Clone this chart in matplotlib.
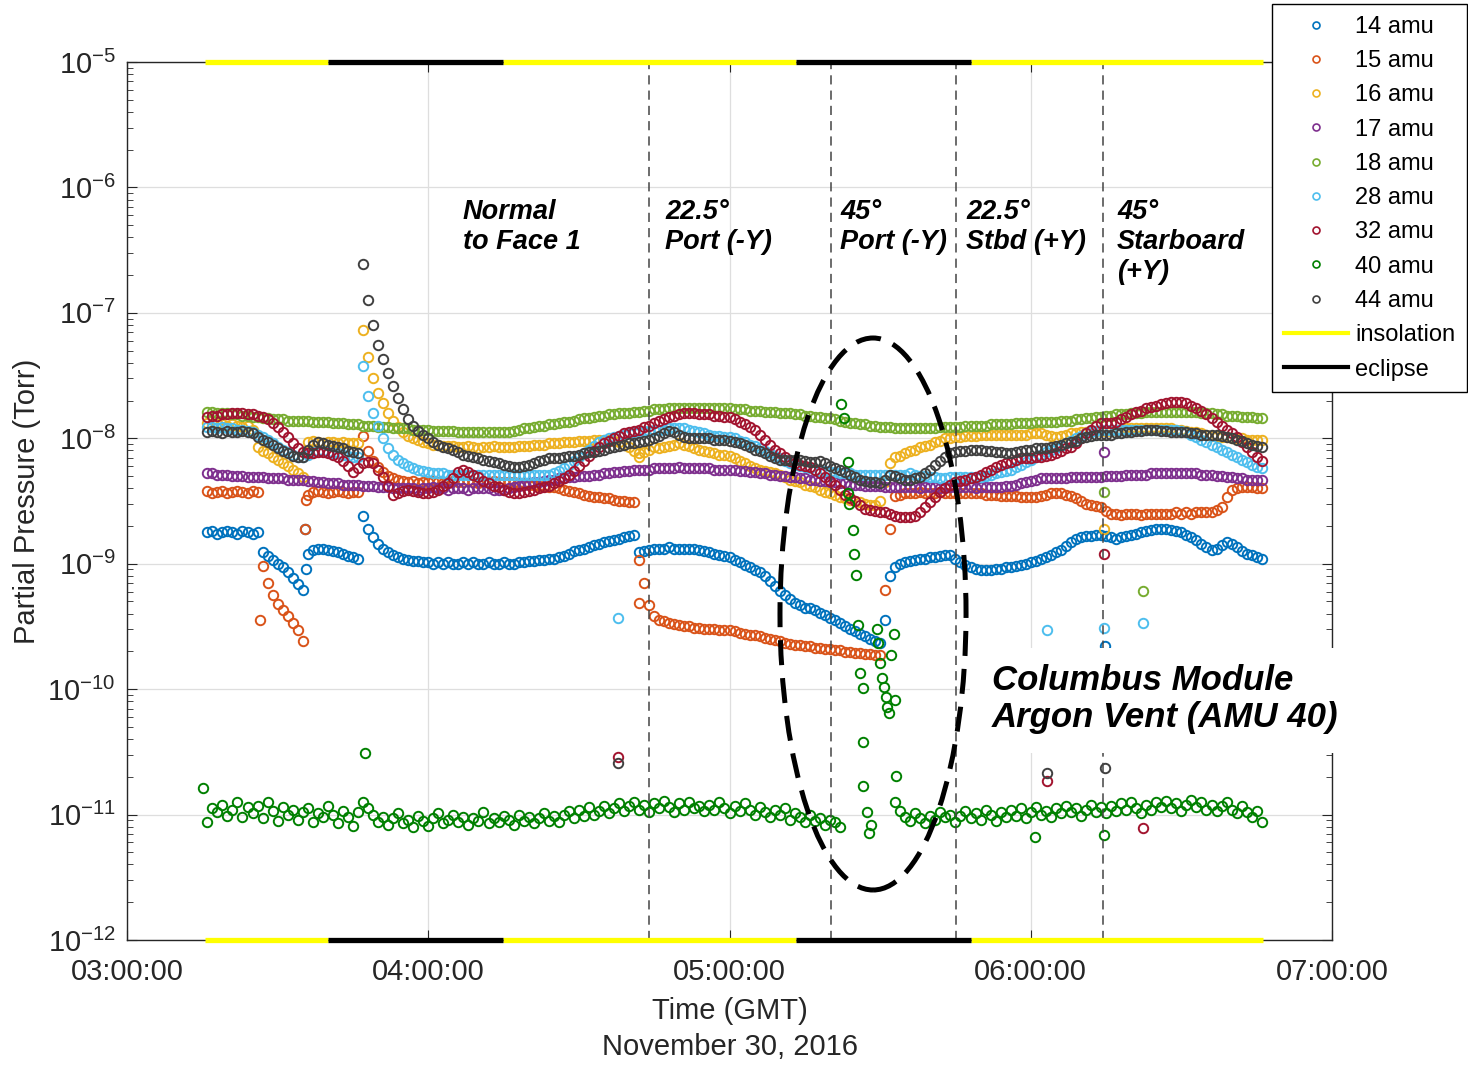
import numpy as np
import matplotlib.pyplot as plt
from matplotlib.lines import Line2D
from matplotlib.patches import Ellipse, Rectangle

plt.rcParams['font.family'] = ['Liberation Sans', 'DejaVu Sans']

# minutes after 03:00:00 GMT, one reading per minute (03:16 .. 06:46)
t = np.arange(16, 227)

# log10 of partial pressure (Torr)
amu14 = [-8.75, -8.74, -8.76, -8.75, -8.74, -8.75, -8.76, -8.74, -8.75, -8.76,
         -8.75, -8.91, -8.94, -8.97, -9.00, -9.03, -9.07, -9.11, -9.16, -9.21,
         -8.92, -8.89, -8.88, -8.88, -8.89, -8.90, -8.91, -8.92, -8.94, -8.95,
         -8.96, -8.62, -8.72, -8.79, -8.84, -8.88, -8.91, -8.93, -8.95, -8.96,
         -8.97, -8.98, -8.98, -8.99, -8.99, -9.00, -8.99, -9.00, -8.99, -9.00,
         -9.00, -8.99, -9.00, -8.99, -9.00, -9.00, -8.99, -9.00, -9.00, -8.99,
         -9.00, -9.00, -8.99, -8.99, -8.98, -8.98, -8.97, -8.97, -8.96, -8.96,
         -8.95, -8.94, -8.92, -8.90, -8.89, -8.88, -8.87, -8.85, -8.84, -8.83,
         -8.82, -8.81, -8.80, -8.79, -8.78, -8.77, -8.91, -8.90, -8.89, -8.88,
         -8.88, -8.88, -8.87, -8.88, -8.88, -8.88, -8.88, -8.88, -8.89, -8.90,
         -8.91, -8.92, -8.93, -8.94, -8.95, -8.97, -8.99, -9.01, -9.03, -9.05,
         -9.07, -9.10, -9.14, -9.18, -9.22, -9.25, -9.28, -9.31, -9.33, -9.35,
         -9.35, -9.37, -9.39, -9.41, -9.43, -9.45, -9.47, -9.50, -9.52, -9.54,
         -9.56, -9.58, -9.60, -9.62, -9.63, -9.45, -9.10, -9.03, -9.00, -8.99,
         -8.98, -8.97, -8.96, -8.96, -8.95, -8.95, -8.94, -8.93, -8.93, -8.96,
         -8.99, -9.01, -9.03, -9.04, -9.05, -9.05, -9.05, -9.04, -9.04, -9.03,
         -9.03, -9.02, -9.01, -9.00, -8.99, -8.98, -8.96, -8.95, -8.93, -8.91,
         -8.89, -8.86, -8.83, -8.80, -8.79, -8.78, -8.78, -8.77, -8.77, -8.78,
         -8.79, -8.80, -8.79, -8.78, -8.77, -8.76, -8.75, -8.74, -8.73, -8.72,
         -8.72, -8.72, -8.73, -8.74, -8.75, -8.77, -8.79, -8.81, -8.84, -8.87,
         -8.89, -8.88, -8.85, -8.83, -8.84, -8.87, -8.90, -8.92, -8.93, -8.95,
         -8.96]

amu15 = [-8.42, -8.44, -8.43, -8.42, -8.44, -8.43, -8.42, -8.43, -8.44, -8.42,
         -8.43, -9.02, -9.15, -9.25, -9.32, -9.37, -9.42, -9.47, -9.53, -9.62,
         -8.45, -8.43, -8.42, -8.43, -8.44, -8.43, -8.42, -8.43, -8.44, -8.43,
         -8.43, -7.98, -8.10, -8.18, -8.23, -8.27, -8.30, -8.32, -8.33, -8.34,
         -8.35, -8.34, -8.36, -8.35, -8.35, -8.34, -8.35, -8.36, -8.35, -8.34,
         -8.35, -8.35, -8.34, -8.35, -8.36, -8.35, -8.35, -8.34, -8.35, -8.35,
         -8.35, -8.35, -8.36, -8.36, -8.37, -8.37, -8.38, -8.38, -8.39, -8.39,
         -8.40, -8.41, -8.42, -8.43, -8.44, -8.45, -8.46, -8.47, -8.47, -8.48,
         -8.48, -8.49, -8.50, -8.50, -8.51, -8.51, -8.97, -9.15, -9.33, -9.42,
         -9.45, -9.46, -9.47, -9.48, -9.49, -9.50, -9.50, -9.51, -9.51, -9.52,
         -9.52, -9.52, -9.53, -9.53, -9.53, -9.54, -9.55, -9.56, -9.57, -9.57,
         -9.58, -9.59, -9.60, -9.61, -9.62, -9.63, -9.64, -9.65, -9.65, -9.66,
         -9.66, -9.67, -9.67, -9.68, -9.68, -9.69, -9.69, -9.70, -9.70, -9.71,
         -9.71, -9.72, -9.72, -9.73, -9.73, -9.21, -8.72, -8.46, -8.45, -8.44,
         -8.44, -8.44, -8.43, -8.44, -8.44, -8.44, -8.43, -8.44, -8.44, -8.44,
         -8.44, -8.44, -8.44, -8.44, -8.44, -8.45, -8.45, -8.45, -8.46, -8.46,
         -8.46, -8.46, -8.47, -8.47, -8.47, -8.47, -8.46, -8.45, -8.44, -8.44,
         -8.44, -8.45, -8.46, -8.48, -8.50, -8.52, -8.53, -8.54, -8.55, -8.58,
         -8.60, -8.60, -8.61, -8.60, -8.60, -8.60, -8.61, -8.60, -8.60, -8.60,
         -8.60, -8.60, -8.60, -8.59, -8.60, -8.59, -8.60, -8.59, -8.59, -8.59,
         -8.59, -8.57, -8.55, -8.47, -8.41, -8.40, -8.39, -8.39, -8.39, -8.40,
         -8.40]

amu16 = [-7.88, -7.89, -7.88, -7.89, -7.90, -7.89, -7.90, -7.91, -7.90, -7.93,
         -8.07, -8.10, -8.12, -8.15, -8.17, -8.20, -8.22, -8.25, -8.28, -8.31,
         -8.03, -8.02, -8.03, -8.04, -8.03, -8.03, -8.04, -8.03, -8.04, -8.04,
         -8.04, -7.14, -7.35, -7.52, -7.64, -7.72, -7.80, -7.86, -7.91, -7.95,
         -7.98, -8.00, -8.01, -8.03, -8.04, -8.05, -8.05, -8.06, -8.06, -8.06,
         -8.07, -8.07, -8.06, -8.07, -8.08, -8.07, -8.07, -8.06, -8.07, -8.07,
         -8.07, -8.07, -8.06, -8.06, -8.06, -8.05, -8.05, -8.05, -8.04, -8.04,
         -8.04, -8.03, -8.03, -8.03, -8.02, -8.02, -8.02, -8.01, -8.01, -8.01,
         -8.01, -8.02, -8.03, -8.05, -8.07, -8.10, -8.12, -8.11, -8.09, -8.07,
         -8.08, -8.07, -8.06, -8.05, -8.04, -8.05, -8.06, -8.08, -8.09, -8.10,
         -8.11, -8.12, -8.13, -8.13, -8.14, -8.16, -8.18, -8.20, -8.22, -8.24,
         -8.25, -8.26, -8.27, -8.28, -8.29, -8.31, -8.33, -8.34, -8.35, -8.37,
         -8.38, -8.39, -8.41, -8.43, -8.44, -8.45, -8.47, -8.48, -8.49, -8.50,
         -8.51, -8.52, -8.53, -8.53, -8.50, -8.35, -8.20, -8.15, -8.14, -8.12,
         -8.10, -8.09, -8.07, -8.06, -8.05, -8.03, -8.02, -8.00, -8.00, -7.99,
         -7.99, -7.98, -7.98, -7.98, -7.97, -7.97, -7.97, -7.97, -7.97, -7.97,
         -7.97, -7.97, -7.97, -7.97, -7.96, -7.96, -7.96, -7.97, -7.98, -7.99,
         -7.98, -7.97, -7.96, -7.96, -7.95, -7.95, -7.94, -7.94, -7.94, -7.94,
         -7.94, -7.93, -7.93, -7.92, -7.92, -7.92, -7.92, -7.92, -7.92, -7.92,
         -7.92, -7.92, -7.92, -7.93, -7.93, -7.94, -7.95, -7.95, -7.96, -7.97,
         -7.98, -7.98, -7.99, -7.99, -8.00, -8.00, -8.00, -8.01, -8.01, -8.01,
         -8.01]

amu17 = [-8.28, -8.28, -8.29, -8.29, -8.29, -8.30, -8.30, -8.30, -8.31, -8.31,
         -8.31, -8.31, -8.32, -8.32, -8.32, -8.32, -8.33, -8.33, -8.33, -8.33,
         -8.34, -8.34, -8.35, -8.35, -8.36, -8.36, -8.36, -8.37, -8.37, -8.37,
         -8.37, -8.38, -8.38, -8.38, -8.39, -8.39, -8.39, -8.40, -8.40, -8.40,
         -8.40, -8.40, -8.41, -8.40, -8.40, -8.39, -8.40, -8.40, -8.41, -8.40,
         -8.40, -8.40, -8.41, -8.40, -8.40, -8.40, -8.40, -8.41, -8.41, -8.41,
         -8.40, -8.39, -8.38, -8.37, -8.36, -8.35, -8.35, -8.34, -8.33, -8.33,
         -8.32, -8.32, -8.31, -8.31, -8.30, -8.30, -8.30, -8.29, -8.29, -8.28,
         -8.28, -8.27, -8.27, -8.26, -8.26, -8.25, -8.25, -8.25, -8.25, -8.24,
         -8.24, -8.24, -8.24, -8.24, -8.23, -8.24, -8.24, -8.24, -8.24, -8.24,
         -8.24, -8.25, -8.25, -8.25, -8.25, -8.25, -8.26, -8.26, -8.27, -8.27,
         -8.28, -8.28, -8.29, -8.29, -8.30, -8.30, -8.31, -8.31, -8.32, -8.32,
         -8.33, -8.33, -8.34, -8.34, -8.35, -8.35, -8.36, -8.36, -8.37, -8.37,
         -8.37, -8.38, -8.38, -8.38, -8.38, -8.39, -8.39, -8.39, -8.39, -8.39,
         -8.39, -8.39, -8.40, -8.39, -8.39, -8.39, -8.40, -8.39, -8.39, -8.39,
         -8.39, -8.39, -8.39, -8.40, -8.39, -8.39, -8.39, -8.39, -8.39, -8.38,
         -8.38, -8.37, -8.36, -8.35, -8.34, -8.33, -8.32, -8.32, -8.32, -8.32,
         -8.32, -8.32, -8.31, -8.31, -8.31, -8.31, -8.31, -8.31, -8.31, -8.30,
         -8.30, -8.30, -8.30, -8.29, -8.29, -8.29, -8.29, -8.29, -8.28, -8.28,
         -8.28, -8.28, -8.28, -8.28, -8.28, -8.28, -8.28, -8.28, -8.29, -8.29,
         -8.29, -8.30, -8.30, -8.31, -8.31, -8.32, -8.32, -8.33, -8.33, -8.33,
         -8.33]

amu18 = [-7.79, -7.79, -7.80, -7.80, -7.80, -7.81, -7.81, -7.82, -7.82, -7.83,
         -7.83, -7.84, -7.84, -7.85, -7.85, -7.85, -7.86, -7.86, -7.86, -7.86,
         -7.86, -7.87, -7.87, -7.87, -7.87, -7.88, -7.88, -7.88, -7.89, -7.89,
         -7.89, -7.90, -7.90, -7.90, -7.91, -7.91, -7.91, -7.92, -7.92, -7.92,
         -7.92, -7.93, -7.93, -7.93, -7.93, -7.94, -7.94, -7.94, -7.94, -7.94,
         -7.95, -7.95, -7.95, -7.95, -7.95, -7.95, -7.95, -7.95, -7.95, -7.95,
         -7.95, -7.94, -7.93, -7.92, -7.92, -7.91, -7.90, -7.90, -7.89, -7.89,
         -7.88, -7.87, -7.87, -7.86, -7.85, -7.84, -7.84, -7.83, -7.82, -7.82,
         -7.81, -7.81, -7.80, -7.80, -7.80, -7.79, -7.79, -7.78, -7.78, -7.77,
         -7.77, -7.77, -7.76, -7.76, -7.76, -7.76, -7.76, -7.76, -7.76, -7.76,
         -7.76, -7.76, -7.76, -7.76, -7.76, -7.77, -7.77, -7.77, -7.78, -7.78,
         -7.78, -7.79, -7.79, -7.79, -7.80, -7.80, -7.80, -7.81, -7.81, -7.82,
         -7.82, -7.83, -7.83, -7.84, -7.84, -7.85, -7.86, -7.87, -7.88, -7.88,
         -7.89, -7.89, -7.90, -7.90, -7.91, -7.91, -7.91, -7.92, -7.92, -7.92,
         -7.92, -7.92, -7.92, -7.92, -7.92, -7.92, -7.91, -7.91, -7.91, -7.91,
         -7.91, -7.90, -7.90, -7.90, -7.90, -7.90, -7.89, -7.89, -7.89, -7.89,
         -7.89, -7.88, -7.88, -7.88, -7.88, -7.87, -7.87, -7.87, -7.87, -7.87,
         -7.86, -7.86, -7.86, -7.85, -7.85, -7.84, -7.84, -7.83, -7.83, -7.82,
         -7.82, -7.81, -7.81, -7.81, -7.80, -7.80, -7.80, -7.79, -7.79, -7.79,
         -7.79, -7.79, -7.79, -7.79, -7.79, -7.79, -7.79, -7.79, -7.80, -7.80,
         -7.80, -7.81, -7.81, -7.82, -7.82, -7.82, -7.83, -7.83, -7.83, -7.84,
         -7.84]

amu28 = [-7.91, -7.91, -7.92, -7.91, -7.92, -7.92, -7.93, -7.93, -7.94, -7.95,
         -7.97, -7.99, -8.01, -8.04, -8.07, -8.09, -8.11, -8.13, -8.15, -8.15,
         -8.13, -8.11, -8.10, -8.10, -8.11, -8.12, -8.12, -8.13, -8.14, -8.15,
         -8.15, -7.42, -7.66, -7.80, -7.90, -8.00, -8.08, -8.13, -8.17, -8.20,
         -8.22, -8.24, -8.25, -8.26, -8.27, -8.28, -8.28, -8.28, -8.29, -8.29,
         -8.29, -8.29, -8.29, -8.29, -8.29, -8.29, -8.29, -8.29, -8.29, -8.29,
         -8.29, -8.29, -8.29, -8.29, -8.29, -8.29, -8.29, -8.29, -8.29, -8.28,
         -8.26, -8.24, -8.21, -8.18, -8.15, -8.12, -8.09, -8.06, -8.03, -8.01,
         -8.00, -7.99, -7.98, -7.97, -7.96, -7.95, -7.95, -7.94, -7.94, -7.93,
         -7.93, -7.93, -7.92, -7.92, -7.92, -7.92, -7.93, -7.94, -7.95, -7.96,
         -7.97, -7.98, -7.98, -7.99, -7.99, -8.00, -8.02, -8.03, -8.05, -8.06,
         -8.08, -8.10, -8.12, -8.14, -8.16, -8.18, -8.20, -8.21, -8.22, -8.23,
         -8.24, -8.25, -8.26, -8.26, -8.27, -8.27, -8.28, -8.28, -8.28, -8.29,
         -8.29, -8.29, -8.29, -8.29, -8.29, -8.29, -8.29, -8.29, -8.29, -8.29,
         -8.28, -8.29, -8.30, -8.30, -8.31, -8.31, -8.32, -8.32, -8.31, -8.31,
         -8.31, -8.31, -8.31, -8.31, -8.31, -8.30, -8.29, -8.28, -8.27, -8.26,
         -8.25, -8.23, -8.21, -8.19, -8.17, -8.15, -8.13, -8.11, -8.09, -8.08,
         -8.06, -8.04, -8.02, -8.00, -7.98, -7.96, -7.95, -7.94, -7.93, -7.93,
         -7.93, -7.93, -7.93, -7.93, -7.93, -7.93, -7.93, -7.93, -7.93, -7.93,
         -7.93, -7.93, -7.93, -7.93, -7.94, -7.95, -7.97, -7.99, -8.01, -8.03,
         -8.05, -8.07, -8.09, -8.11, -8.13, -8.15, -8.17, -8.19, -8.21, -8.23,
         -8.24]

amu32 = [-7.83, -7.82, -7.82, -7.81, -7.81, -7.80, -7.80, -7.80, -7.81, -7.81,
         -7.82, -7.83, -7.85, -7.88, -7.91, -7.95, -7.99, -8.04, -8.08, -8.11,
         -8.12, -8.12, -8.11, -8.11, -8.12, -8.13, -8.15, -8.18, -8.22, -8.27,
         -8.24, -8.20, -8.19, -8.20, -8.25, -8.31, -8.38, -8.45, -8.44, -8.42,
         -8.41, -8.42, -8.43, -8.44, -8.44, -8.43, -8.41, -8.38, -8.36, -8.32,
         -8.27, -8.25, -8.27, -8.29, -8.31, -8.34, -8.36, -8.38, -8.39, -8.41,
         -8.43, -8.44, -8.44, -8.43, -8.42, -8.41, -8.40, -8.39, -8.38, -8.36,
         -8.34, -8.32, -8.29, -8.26, -8.22, -8.18, -8.14, -8.10, -8.07, -8.04,
         -8.02, -8.00, -7.98, -7.96, -7.95, -7.94, -7.93, -7.91, -7.90, -7.88,
         -7.86, -7.85, -7.83, -7.82, -7.81, -7.80, -7.80, -7.80, -7.81, -7.81,
         -7.81, -7.82, -7.82, -7.83, -7.83, -7.85, -7.87, -7.89, -7.91, -7.93,
         -7.97, -8.01, -8.05, -8.09, -8.12, -8.15, -8.18, -8.20, -8.21, -8.22,
         -8.23, -8.25, -8.28, -8.31, -8.34, -8.37, -8.41, -8.45, -8.48, -8.50,
         -8.53, -8.56, -8.57, -8.58, -8.59, -8.59, -8.60, -8.62, -8.63, -8.63,
         -8.63, -8.62, -8.59, -8.55, -8.51, -8.47, -8.43, -8.40, -8.37, -8.35,
         -8.34, -8.33, -8.32, -8.31, -8.29, -8.27, -8.25, -8.23, -8.21, -8.20,
         -8.19, -8.17, -8.16, -8.16, -8.16, -8.15, -8.15, -8.14, -8.13, -8.12,
         -8.10, -8.08, -8.07, -8.04, -8.00, -7.96, -7.93, -7.90, -7.88, -7.88,
         -7.88, -7.87, -7.85, -7.83, -7.81, -7.79, -7.78, -7.76, -7.75, -7.74,
         -7.73, -7.72, -7.71, -7.71, -7.71, -7.72, -7.74, -7.76, -7.78, -7.81,
         -7.84, -7.87, -7.90, -7.93, -7.96, -7.99, -8.03, -8.07, -8.11, -8.15,
         -8.18]

nan = np.nan
amu40 = [-11.06, -10.95, -10.98, -10.92, -11.01, -10.96, -10.90, -11.02, -10.94, -10.99,
         -10.93, -11.03, -10.90, -10.97, -11.05, -10.94, -11.00, -10.96, -11.04, -10.98,
         -10.95, -11.06, -10.99, -11.02, -10.93, -11.00, -11.07, -10.97, -11.02, -11.09,
         -10.98, -10.90, -10.95, -11.00, -11.06, -11.02, -11.08, -11.03, -10.99, -11.07,
         -11.04, -11.10, -11.01, -11.05, -11.09, -11.03, -10.99, -11.07, -11.04, -11.00,
         -11.06, -11.02, -11.08, -11.03, -11.05, -10.98, -11.07, -11.03, -11.06, -11.01,
         -11.04, -11.08, -11.00, -11.05, -11.02, -11.07, -11.03, -10.99, -11.05, -11.01,
         -11.06, -11.00, -10.97, -11.03, -10.96, -11.01, -10.94, -11.00, -10.97, -10.93,
         -10.99, -10.95, -10.91, -10.97, -10.93, -10.90, -10.96, -10.92, -10.98, -10.91,
         -10.95, -10.89, -10.94, -10.98, -10.91, -10.96, -10.90, -10.95, -10.93, -10.97,
         -10.92, -10.96, -10.90, -10.95, -10.99, -10.93, -10.97, -10.91, -10.96, -11.00,
         -10.94, -10.98, -11.02, -10.96, -11.00, -10.95, -11.04, -10.99, -11.02, -11.06,
         -11.00, -11.05, -11.03, -11.08, -11.04, -11.06, -11.10, nan, nan, nan,
         nan, nan, nan, nan, nan, nan, nan, -10.90, -10.97, -11.02,
         -11.05, -10.99, -11.03, -11.07, -11.01, -11.04, -10.98, -11.02, -11.00, -11.06,
         -11.01, -10.97, -11.03, -10.99, -11.04, -10.96, -11.00, -11.05, -10.98, -11.02,
         -10.96, -11.01, -10.95, -11.03, -10.98, -10.94, -11.00, -10.97, -11.02, -10.95,
         -10.99, -10.93, -10.98, -10.95, -11.01, -10.96, -10.92, -10.98, -10.94, -10.99,
         -10.93, -10.97, -10.91, -10.96, -10.90, -10.95, -10.99, -10.92, -10.96, -10.90,
         -10.94, -10.89, -10.95, -10.91, -10.97, -10.92, -10.88, -10.94, -10.90, -10.96,
         -10.92, -10.97, -10.93, -10.90, -10.96, -10.99, -10.93, -10.98, -11.02, -10.97,
         -11.06]

amu44 = [-7.95, -7.94, -7.95, -7.96, -7.94, -7.95, -7.95, -7.94, -7.95, -7.96,
         -7.99, -8.01, -8.03, -8.05, -8.08, -8.10, -8.12, -8.14, -8.15, -8.15,
         -8.09, -8.05, -8.03, -8.04, -8.05, -8.06, -8.07, -8.08, -8.10, -8.11,
         -8.12, -6.61, -6.90, -7.10, -7.26, -7.37, -7.48, -7.58, -7.68, -7.77,
         -7.85, -7.90, -7.94, -7.97, -8.00, -8.03, -8.05, -8.07, -8.08, -8.09,
         -8.11, -8.13, -8.14, -8.15, -8.16, -8.17, -8.18, -8.19, -8.20, -8.21,
         -8.22, -8.23, -8.23, -8.22, -8.21, -8.20, -8.18, -8.17, -8.16, -8.16,
         -8.16, -8.15, -8.14, -8.14, -8.13, -8.12, -8.11, -8.11, -8.10, -8.09,
         -8.08, -8.07, -8.06, -8.05, -8.04, -8.04, -8.03, -8.02, -8.01, -8.00,
         -7.98, -7.96, -7.94, -7.95, -7.97, -7.99, -8.00, -8.00, -8.00, -8.00,
         -8.00, -8.01, -8.01, -8.01, -8.02, -8.03, -8.04, -8.05, -8.07, -8.09,
         -8.10, -8.12, -8.14, -8.16, -8.17, -8.17, -8.17, -8.17, -8.17, -8.18,
         -8.19, -8.19, -8.18, -8.20, -8.22, -8.24, -8.25, -8.27, -8.29, -8.31,
         -8.33, -8.34, -8.35, -8.35, -8.36, -8.33, -8.29, -8.30, -8.32, -8.33,
         -8.33, -8.32, -8.31, -8.28, -8.25, -8.21, -8.18, -8.15, -8.12, -8.11,
         -8.10, -8.10, -8.09, -8.09, -8.09, -8.10, -8.10, -8.11, -8.11, -8.12,
         -8.12, -8.11, -8.10, -8.09, -8.09, -8.08, -8.08, -8.08, -8.07, -8.06,
         -8.05, -8.04, -8.03, -8.02, -8.00, -7.99, -7.98, -7.97, -7.97, -7.97,
         -7.97, -7.96, -7.96, -7.95, -7.95, -7.94, -7.94, -7.93, -7.93, -7.93,
         -7.94, -7.94, -7.95, -7.95, -7.95, -7.95, -7.96, -7.96, -7.97, -7.97,
         -7.97, -7.97, -7.98, -7.99, -8.00, -8.01, -8.02, -8.04, -8.05, -8.06,
         -8.07]

# isolated readings (minute, log10 pressure)
extra14_t = [35.7, 35.5, 194.8]
extra14_v = [-9.04, -8.72, -9.66]
extra15_t = [26.5, 35.5, 35.7, 101.9]
extra15_v = [-9.45, -8.72, -8.49, -9.31]
extra16_t = [101.9, 194.6]
extra16_v = [-8.15, -8.72]
extra17_t = [194.6]
extra17_v = [-8.11]
extra18_t = [194.6, 202.3]
extra18_v = [-8.43, -9.22]
extra28_t = [97.7, 183.2, 194.6, 202.3]
extra28_v = [-9.43, -9.53, -9.51, -9.47]
extra32_t = [97.7, 183.2, 202.3, 194.6]
extra32_v = [-10.54, -10.73, -11.11, -8.92]
extra44_t = [97.7, 183.2, 194.8]
extra44_v = [-10.59, -10.67, -10.63]
# AMU 40 argon vent burst and strays
extra40_t = [15.2, 47.4, 142.3, 142.9, 143.7, 143.7, 143.9, 144.5, 144.7, 145.1,
             145.5, 145.9, 146.5, 146.5, 146.5, 147.3, 147.7, 148.1, 149.3, 149.5,
             149.9, 150.3, 150.7, 151.1, 151.3, 151.7, 152.1, 152.7, 152.9, 153.1,
             180.8, 194.6]
extra40_v = [-10.79, -10.51, -7.73, -7.84, -8.19, -8.44, -8.52, -8.73, -8.92, -9.09,
             -9.49, -9.87, -9.99, -10.42, -10.77, -10.98, -11.15, -11.08, -9.52, -9.63,
             -9.79, -9.91, -9.98, -10.06, -10.14, -10.19, -9.73, -9.56, -10.09, -10.69,
             -11.18, -11.16]

labels = ['14 amu', '15 amu', '16 amu', '17 amu', '18 amu',
          '28 amu', '32 amu', '40 amu', '44 amu']
colors = ['#0072BD', '#D95319', '#EDB120', '#7E2F8E', '#77AC30',
          '#4DBEEE', '#A2142F', '#008000', '#404040']

# insolation / eclipse periods (minutes after 03:00)
sun_start = [15.5, 74.9, 168.0]
sun_end = [40.1, 133.2, 226.2]
dark_start = [40.1, 133.2]
dark_end = [74.9, 168.0]

# attitude changes
events = [103.9, 140.3, 165.2, 194.4]

series = [(amu14, extra14_t, extra14_v), (amu15, extra15_t, extra15_v),
          (amu16, extra16_t, extra16_v), (amu17, extra17_t, extra17_v),
          (amu18, extra18_t, extra18_v), (amu28, extra28_t, extra28_v),
          (amu32, extra32_t, extra32_v), (amu40, extra40_t, extra40_v),
          (amu44, extra44_t, extra44_v)]

W, H = 1468, 1067
fig = plt.figure(figsize=(W / 100, H / 100), dpi=100)
ax = fig.add_axes([127 / W, 1 - 940 / H, 1205 / W, 878 / H])

for (vals, et, ev), col in zip(series, colors):
    tt = np.concatenate([t, et])
    vv = np.concatenate([np.array(vals, dtype=float), ev])
    ax.plot(tt, 10 ** vv, 'o', ls='none', mfc='none', mec=col, ms=6.8, mew=1.4, zorder=2)

for y in (1e-5, 1e-12):
    for a, b in zip(sun_start, sun_end):
        ax.plot([a, b], [y, y], color='#FFFF00', lw=3.8, solid_capstyle='butt',
                clip_on=False, zorder=4)
    for a, b in zip(dark_start, dark_end):
        ax.plot([a, b], [y, y], color='black', lw=3.8, solid_capstyle='butt',
                clip_on=False, zorder=4)

for x in events:
    ax.axvline(x, color='#444444', lw=1.1, ls=(0, (6, 4)), zorder=3)

ax.set_yscale('log')
ax.set_ylim(1e-12, 1e-5)
ax.set_xlim(0, 240)
ax.set_xticks([0, 60, 120, 180, 240])
ax.set_xticklabels(['%02d:00:00' % (3 + m // 60) for m in [0, 60, 120, 180, 240]])
ax.tick_params(which='both', direction='in', top=True, right=True, colors='#262626')
ax.tick_params(which='major', length=7, labelsize=21)
ax.tick_params(axis='x', which='major', pad=13)
ax.tick_params(axis='y', which='major', pad=8)
ax.tick_params(which='minor', length=4)
ax.grid(True, which='major', color='#dedede', lw=0.9, zorder=0)
ax.set_axisbelow(True)
for s in ax.spines.values():
    s.set_color('#262626')
    s.set_linewidth(1.0)

ax.set_xlabel('Time (GMT)\nNovember 30, 2016', fontsize=21, linespacing=1.35,
              labelpad=8, color='#262626')
ax.set_ylabel('Partial Pressure (Torr)', fontsize=21, labelpad=5, color='#262626')

# dashed ellipse round the argon vent
ax.add_patch(Ellipse((0.6191, 0.3713), 0.1544, 0.6287, transform=ax.transAxes,
                     fill=False, ec='black', lw=3.6, ls=(0, (5, 2.6)), zorder=6))

notes = [(463, 'Normal\nto Face 1'), (665, '22.5°\nPort (-Y)'), (840, '45°\nPort (-Y)'),
         (966, '22.5°\nStbd (+Y)'), (1117, '45°\nStarboard\n(+Y)')]
for x, s in notes:
    fig.text(x / W, 1 - 199 / H, s, fontsize=19.5, fontweight='bold', fontstyle='italic',
             ha='left', va='top', linespacing=1.2)

fig.patches.append(Rectangle((970 / W, 1 - 753 / H), 380 / W, 105 / H,
                             transform=fig.transFigure, fc='white', ec='none', zorder=3))
fig.text(992 / W, 1 - 664 / H, 'Columbus Module\nArgon Vent (AMU 40)', fontsize=25,
         fontweight='bold', fontstyle='italic', ha='left', va='top', linespacing=1.15,
         zorder=4)

handles = [Line2D([], [], marker='o', ls='none', mfc='none', mec=c, ms=5, mew=1.2)
           for c in colors]
handles += [Line2D([], [], color='#FFFF00', lw=3), Line2D([], [], color='black', lw=3)]
fig.legend(handles, labels + ['insolation', 'eclipse'], loc='upper right',
           bbox_to_anchor=(1467 / W, 1 - 4 / H), fontsize=17, frameon=True,
           fancybox=False, edgecolor='black', framealpha=1, borderpad=0.5,
           labelspacing=0.52, handlelength=2.7, handletextpad=0.3, borderaxespad=0)

fig.savefig('out.png', dpi=100)
